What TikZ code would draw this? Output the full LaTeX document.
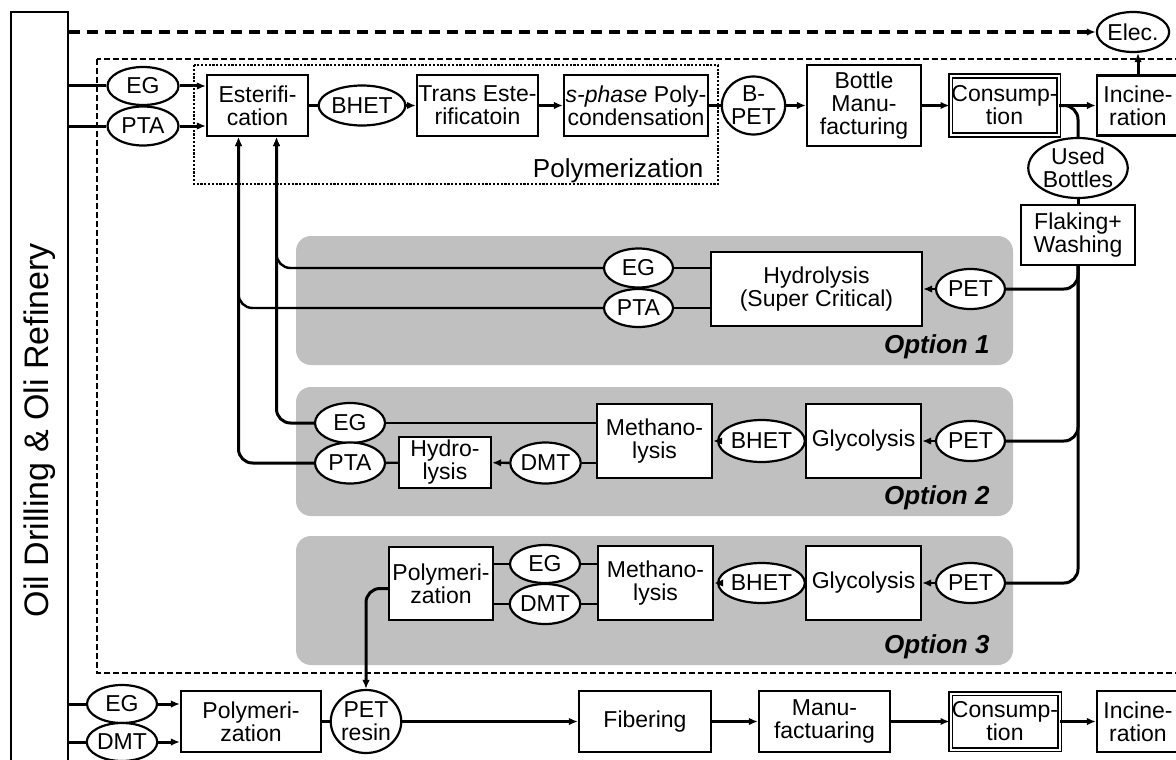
\documentclass[tikz,border=0pt]{standalone}
\usepackage{fontspec}
\setmainfont{Liberation Sans}
\usetikzlibrary{shapes.geometric,arrows.meta}
\definecolor{optgray}{RGB}{192,192,192}
\begin{document}
\begin{tikzpicture}[x=1pt,y=-1pt,
  font=\fontsize{23}{23}\selectfont,
  box/.style={draw, rectangle, line width=2.2pt, fill=white, inner sep=0pt, align=center},
  ell/.style={draw, ellipse, line width=2.2pt, fill=white, inner sep=0pt, align=center},
  dbl/.style={draw, rectangle, double, double distance=2pt, line width=1.8pt, fill=white, inner sep=0pt, align=center},
  ln/.style={line width=3pt},
  thn/.style={line width=2.4pt},
  arr/.style={-{Latex[length=9pt,width=7.5pt]}},
  optbox/.style={fill=optgray, rounded corners=15pt},
  optlabel/.style={anchor=base east, font=\fontsize{26}{26}\selectfont\bfseries\itshape},
]
\useasboundingbox (0,0) rectangle (1176,760);
\clip (0,0) rectangle (1176,760);
\fill[white] (0,0) rectangle (1176,760);

% option panels
\path[optbox] (296,236) rectangle (1013,365);
\path[optbox] (296,387) rectangle (1013,516);
\path[optbox] (296,536) rectangle (1013,665);

% frames
\draw[line width=1.5pt, dash pattern=on 6pt off 3pt] (97,59) rectangle (1195,673);
\draw[line width=2.8pt, dash pattern=on 2.2pt off 1.6pt] (194,65) rectangle (718,184);

% left box
\node[draw, line width=2.2pt, minimum width=57pt, minimum height=760pt, inner sep=0pt] (oil) at (39.5,392) {};
\node[rotate=90, font=\fontsize{34}{34}\selectfont] (oiltxt) at (40,430) {Oil Drilling \& Oli Refinery};

% top row
\node[ell, minimum width=71pt, minimum height=38pt] (eg1) at (143,86) {EG};
\node[ell, minimum width=71pt, minimum height=39pt] (pta1) at (143,126) {PTA};
\node[box, minimum width=101pt, minimum height=61pt] (est) at (257.5,105.5) {Esterifi-\\cation};
\node[ell, minimum width=71pt, minimum height=40pt] (bhet1) at (362,105.5) {BHET};
\node[box, minimum width=121pt, minimum height=61pt] (trans) at (477.5,105.5) {Trans Este-\\rificatoin};
\node[box, minimum width=144pt, minimum height=61pt] (sph) at (636,105.5) {\textit{s-phase} Poly-\\condensation};
\node[ell, minimum width=57pt, minimum height=58pt] (bpet) at (753.5,105.5) {B-\\PET};
\node[box, minimum width=114pt, minimum height=81pt] (bottle) at (864,105.5) {Bottle\\Manu-\\facturing};
\node[dbl, minimum width=108pt, minimum height=59pt] (cons1) at (1004.5,105.5) {Consump-\\tion};
\node[box, minimum width=82pt, minimum height=60pt] (inc1) at (1138,105.5) {Incine-\\ration};
\node[ell, minimum width=62pt, minimum height=40pt] (elec) at (1133,32) {Elec.};
\node[ell, minimum width=90pt, minimum height=60pt] (used) at (1078,168) {Used\\Bottles};
\node[box, minimum width=114pt, minimum height=60pt] (flake) at (1078,235) {Flaking+\\Washing};
\node[anchor=base east, font=\fontsize{26}{26}\selectfont] (polylbl) at (707,177) {Polymerization};

% option 1
\node[box, minimum width=211pt, minimum height=74pt] (hyd1) at (816.5,289) {Hydrolysis\\(Super Critical)};
\node[ell, minimum width=69pt, minimum height=40pt] (pet1) at (970.5,289) {PET};
\node[ell, minimum width=69pt, minimum height=39pt] (eg2) at (638.5,268) {EG};
\node[ell, minimum width=69pt, minimum height=38pt] (pta2) at (638.5,308) {PTA};
\node[optlabel] (opt1) at (993,353) {Option 1};

% option 2
\node[ell, minimum width=70pt, minimum height=40pt] (eg3) at (350,423) {EG};
\node[ell, minimum width=70pt, minimum height=41pt] (pta3) at (350,463) {PTA};
\node[box, minimum width=92pt, minimum height=51pt] (hyd2) at (445,462.5) {Hydro-\\lysis};
\node[ell, minimum width=69pt, minimum height=41pt] (dmt2) at (545.5,463) {DMT};
\node[box, minimum width=115pt, minimum height=74pt] (meth2) at (654.5,441) {Methano-\\lysis};
\node[ell, minimum width=71pt, minimum height=42pt] (bhet2) at (761.5,441) {BHET};
\node[box, minimum width=115pt, minimum height=74pt] (gly2) at (863.5,441) {Glycolysis};
\node[ell, minimum width=69pt, minimum height=40pt] (pet2) at (970.5,441) {PET};
\node[optlabel] (opt2) at (993,504) {Option 2};

% option 3
\node[box, minimum width=104pt, minimum height=73pt] (poly3) at (441,583.5) {Polymeri-\\zation};
\node[ell, minimum width=70pt, minimum height=38pt] (eg4) at (545,564) {EG};
\node[ell, minimum width=70pt, minimum height=40pt] (dmt4) at (545,604) {DMT};
\node[box, minimum width=115pt, minimum height=74pt] (meth3) at (655.5,583) {Methano-\\lysis};
\node[ell, minimum width=71pt, minimum height=40pt] (bhet3) at (761.5,583) {BHET};
\node[box, minimum width=115pt, minimum height=74pt] (gly3) at (863.5,583) {Glycolysis};
\node[ell, minimum width=69pt, minimum height=40pt] (pet3) at (970.5,583) {PET};
\node[optlabel] (opt3) at (993,653) {Option 3};

% bottom row
\node[ell, minimum width=70pt, minimum height=38pt] (eg5) at (122,704) {EG};
\node[ell, minimum width=70pt, minimum height=38pt] (dmt5) at (122,742) {DMT};
\node[box, minimum width=140pt, minimum height=61pt] (poly5) at (251,721.5) {Polymeri-\\zation};
\node[ell, minimum width=63pt, minimum height=63pt] (resin) at (366,721.5) {PET\\resin};
\node[box, minimum width=132pt, minimum height=61pt] (fib) at (645,721.5) {Fibering};
\node[box, minimum width=131pt, minimum height=61pt] (manu) at (824.5,721.5) {Manu-\\factuaring};
\node[dbl, minimum width=109pt, minimum height=56pt] (cons2) at (1005,721.5) {Consump-\\tion};
\node[box, minimum width=82pt, minimum height=61pt] (inc2) at (1138,721.5) {Incine-\\ration};

\coordinate (eA) at ([xshift=-19pt]est.south);
\coordinate (eB) at ([xshift=19pt]est.south);

% top row connectors
\draw[line width=3.3pt, dash pattern=on 11pt off 7pt, arr] (oil.east |- elec.west) -- (elec.west);
\draw[ln] (oil.east |- eg1.west) -- (eg1.west);
\draw[ln] (oil.east |- pta1.west) -- (pta1.west);
\draw[ln,arr] (eg1.east) -- (est.west |- eg1.east);
\draw[ln,arr] (pta1.east) -- (est.west |- pta1.east);
\draw[ln] (est) -- (bhet1);
\draw[ln,arr] (bhet1) -- (trans);
\draw[ln,arr] (trans) -- (sph);
\draw[ln] (sph) -- (bpet);
\draw[ln,arr] (bpet) -- (bottle);
\draw[ln,arr] (bottle) -- (cons1);
\draw[ln,arr] (cons1.east) -- (inc1.west |- cons1.east);
\draw[ln,arr] (inc1.north) -- (inc1.north |- elec.south);
\draw[ln, rounded corners=14pt] (cons1.east) -| (used.north);
\draw[ln] (used.south) -- (used.south |- flake.north);
\draw[ln, rounded corners=14pt] (flake.south) |- (pet1.east);
\draw[ln, rounded corners=14pt] (flake.south) |- (pet2.east);
\draw[ln, rounded corners=14pt] (flake.south) |- (pet3.east);

% option 1
\draw[thn,arr] (pet1) -- (hyd1);
\draw[thn] (hyd1.west |- eg2.east) -- (eg2.east);
\draw[thn] (hyd1.west |- pta2.east) -- (pta2.east);
\draw[thn,arr,rounded corners=14pt] (eg2.west) -| (eB);
\draw[thn,arr,rounded corners=14pt] (pta2.west) -| (eA);

% option 2
\draw[thn,arr] (pet2) -- (gly2);
\draw[thn] (gly2) -- (bhet2);
\draw[thn,arr] (bhet2) -- (meth2);
\draw[thn] (meth2.west |- eg3.east) -- (eg3.east);
\draw[thn] (meth2.west |- dmt2.east) -- (dmt2.east);
\draw[thn,arr] (dmt2) -- (hyd2);
\draw[thn] (hyd2) -- (pta3);
\draw[ln,arr,rounded corners=14pt] (eg3.west) -| (eB);
\draw[ln,arr,rounded corners=14pt] (pta3.west) -| (eA);

% option 3
\draw[thn,arr] (pet3) -- (gly3);
\draw[thn] (gly3) -- (bhet3);
\draw[thn,arr] (bhet3) -- (meth3);
\draw[thn] (meth3.west |- eg4.east) -- (eg4.east);
\draw[thn] (meth3.west |- dmt4.east) -- (dmt4.east);
\draw[thn] (eg4.west) -- (poly3.east |- eg4.west);
\draw[thn] (dmt4.west) -- (poly3.east |- dmt4.west);
\draw[ln,arr,rounded corners=14pt] ([yshift=-5pt]poly3.west) -| (resin.north);

% bottom row
\draw[ln] (oil.east |- eg5.west) -- (eg5.west);
\draw[ln] (oil.east |- dmt5.west) -- (dmt5.west);
\draw[ln,arr] (eg5.east) -- (poly5.west |- eg5.east);
\draw[ln,arr] (dmt5.east) -- (poly5.west |- dmt5.east);
\draw[ln] (poly5) -- (resin);
\draw[ln,arr] (resin) -- (fib);
\draw[ln,arr] (fib) -- (manu);
\draw[ln,arr] (manu) -- (cons2);
\draw[ln,arr] (cons2) -- (inc2);
\end{tikzpicture}
\end{document}
